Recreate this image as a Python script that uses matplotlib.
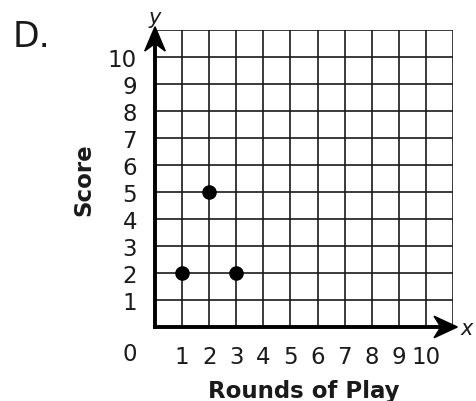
import matplotlib
matplotlib.use("Agg")
import matplotlib.pyplot as plt
from matplotlib.patches import Polygon

rounds = [1, 2, 3]
scores = [2, 5, 2]
x_ticks = [1, 2, 3, 4, 5, 6, 7, 8, 9, 10]
y_ticks = [1, 2, 3, 4, 5, 6, 7, 8, 9, 10]

W, H = 476, 402
fig = plt.figure(figsize=(W / 100, H / 100), dpi=100)
ax = fig.add_axes([155 / W, (H - 328) / H, 298 / W, 297 / H])
ax.set_xlim(0, 11)
ax.set_ylim(0, 11)

# grid
for v in range(1, 12):
    ax.axvline(v, color="#1a1a1a", lw=1.2, zorder=1)
    ax.axhline(v, color="#1a1a1a", lw=1.2, zorder=1)
for s in ax.spines.values():
    s.set_visible(False)

# axes
ax.plot([0, 10.9], [0, 0], color="black", lw=2.8, clip_on=False, zorder=3)
ax.plot([0, 0], [0, 10.9], color="black", lw=2.8, clip_on=False, zorder=3)
# arrowheads
ax.add_patch(Polygon([(11.16, 0), (10.3, 0.4), (10.55, 0), (10.3, -0.4)],
                     closed=True, color="black", clip_on=False, zorder=4))
ax.add_patch(Polygon([(0, 11.12), (-0.38, 10.22), (0, 10.5), (0.38, 10.22)],
                     closed=True, color="black", clip_on=False, zorder=4))

ax.scatter(rounds, scores, s=90, color="black", zorder=5, clip_on=False)

tc = "#1a1a1a"
ax.set_xticks(x_ticks)
ax.set_xticklabels([str(t) for t in x_ticks])
ax.set_yticks(y_ticks)
ax.set_yticklabels([str(t) for t in y_ticks])
ax.tick_params(length=0, labelsize=16.5, colors=tc)
ax.tick_params(axis="x", pad=13)
ax.tick_params(axis="y", pad=13)
ax.text(-0.92, -1.0, "0", fontsize=16.5, color=tc, ha="center", va="center")

ax.set_xlabel("Rounds of Play", fontsize=16.5, fontweight="bold", color=tc, labelpad=8)
ax.set_ylabel("Score", fontsize=16.5, fontweight="bold", color=tc, labelpad=9)

ax.text(0, 11.5, "y", fontsize=15, style="italic", ha="center", va="center", color=tc)
ax.text(11.5, -0.05, "x", fontsize=15, style="italic", ha="center", va="center", color=tc)

fig.text(13 / W, 1 - 47 / H, "D.", fontsize=25, color=tc, ha="left", va="baseline")

fig.savefig("out.png", dpi=100)
